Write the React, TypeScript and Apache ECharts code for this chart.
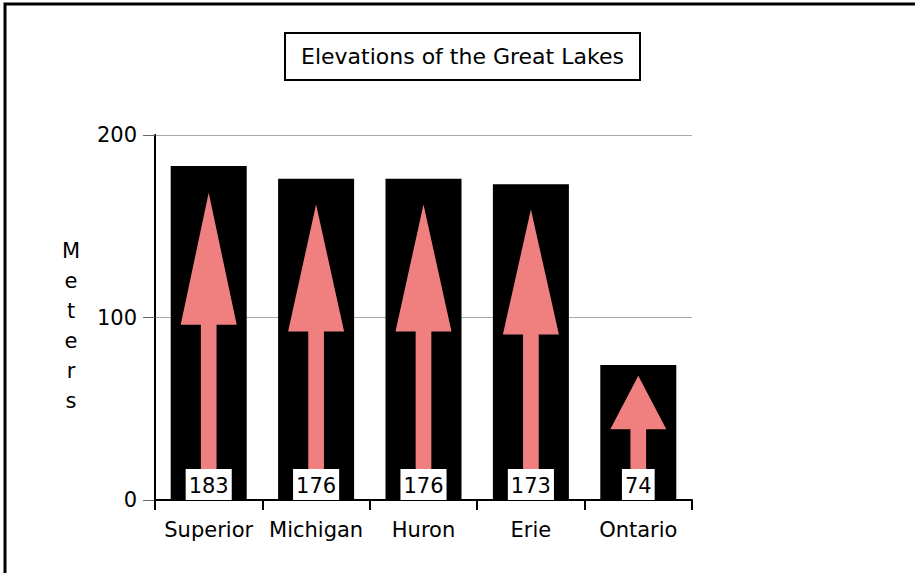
import React, { useEffect, useRef } from "react";
import * as echarts from "echarts";

const lakes = ["Superior", "Michigan", "Huron", "Erie", "Ontario"];
const elevations = [183, 176, 176, 173, 74];
const yTicks = [0, 100, 200];
const chartTitle = "Elevations of the Great Lakes";
const yAxisName = "Meters";

const FONT = "DejaVu Sans";
const ARROW =
  "path://M50,0 L100,43 L64,43 L64,100 L36,100 L36,43 L0,43 Z";

export default function App() {
  const ref = useRef<HTMLDivElement>(null);
  useEffect(() => {
    if (!ref.current) return;
    const chart = echarts.init(ref.current, null, { renderer: "svg" });
    chart.setOption({
      animation: false,
      backgroundColor: "#fff",
      textStyle: { fontFamily: FONT },
      title: {
        text: chartTitle,
        left: 285,
        top: 33,
        padding: [11, 16, 11, 16],
        borderColor: "#000",
        borderWidth: 2,
        textStyle: {
          fontFamily: FONT,
          fontSize: 22,
          lineHeight: 25,
          fontWeight: "normal",
          color: "#000",
        },
      },
      graphic: [
        {
          type: "rect",
          shape: { x: 5, y: 4, width: 2000, height: 2000 },
          style: { fill: "none", stroke: "#000", lineWidth: 3 },
          silent: true,
        },
        {
          type: "text",
          x: 71,
          y: 326,
          silent: true,
          style: {
            text: yAxisName.split("").join("\n"),
            align: "center",
            verticalAlign: "middle",
            lineHeight: 30,
            fontSize: 21,
            fontFamily: FONT,
            fill: "#000",
          },
        },
      ],
      grid: { left: 155, top: 135, right: 223, bottom: 73 },
      xAxis: {
        type: "category",
        data: lakes,
        axisLine: { lineStyle: { color: "#000", width: 2 } },
        axisTick: {
          show: true,
          interval: 0,
          length: 10,
          lineStyle: { color: "#000", width: 2 },
        },
        axisLabel: {
          interval: 0,
          color: "#000",
          fontSize: 21,
          fontFamily: FONT,
          margin: 19,
        },
      },
      yAxis: {
        type: "value",
        min: yTicks[0],
        max: yTicks[yTicks.length - 1],
        interval: 100,
        axisLine: { show: true, lineStyle: { color: "#000", width: 2 } },
        axisTick: { show: true, length: 12, lineStyle: { color: "#666", width: 1 } },
        axisLabel: { color: "#000", fontSize: 21, fontFamily: FONT, margin: 18 },
        splitLine: { lineStyle: { color: "#aaa", width: 1 } },
      },
      series: [
        {
          type: "bar",
          data: elevations,
          barWidth: 76,
          itemStyle: { color: "#000" },
          z: 2,
        },
        {
          type: "pictorialBar",
          data: elevations,
          barWidth: 76,
          symbol: ARROW,
          symbolSize: [56, "92%"],
          symbolPosition: "start",
          symbolRepeat: false,
          itemStyle: { color: "#F08080" },
          z: 3,
          label: {
            show: true,
            position: "insideBottom",
            distance: 0,
            color: "#000",
            fontSize: 21,
            lineHeight: 23,
            fontFamily: FONT,
            backgroundColor: "#fff",
            padding: [5, 3, 3, 3],
          },
        },
      ],
    });
    return () => chart.dispose();
  }, []);
  return (
    <div
      ref={ref}
      style={{ position: "fixed", left: 0, top: 0, width: 915, height: 573 }}
    />
  );
}
